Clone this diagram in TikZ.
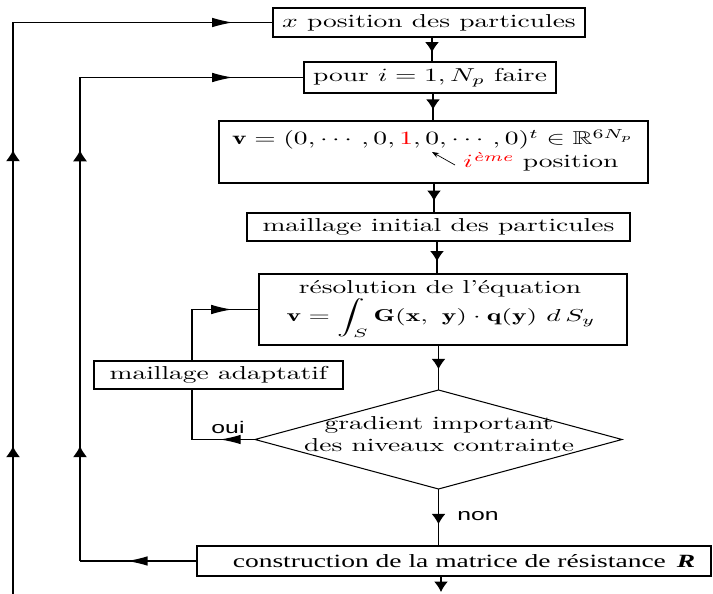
\documentclass[tikz,border=0pt]{standalone}
\usepackage{amsmath,amssymb}
\usepackage{graphicx}
\usepackage{fontspec}
\newfontfamily\timesf{Liberation Serif}
\newfontfamily\helvf{Liberation Sans}
\usetikzlibrary{arrows.meta,shapes.geometric,decorations.markings,backgrounds}
\newcommand\sx[1]{\scalebox{1.59}[1.08]{#1}}
\begin{document}
\begin{tikzpicture}[x=0.578pt,y=-0.578pt,
  box/.style={draw,line width=0.6pt,inner sep=0pt,outer sep=0pt,fill=white},
  sz/.style 2 args={minimum width=#1*0.578pt,minimum height=#2*0.578pt},
  conn/.style={line width=0.7pt},
  thickv/.style={line width=1.7pt},
  vmid/.style={postaction={decorate},decoration={markings,mark=at position #1 with {\arrow{Latex[length=6pt,width=8pt]}}}},
  hmark/.style={postaction={decorate},decoration={markings,mark=at position #1 with {\arrow{Latex[length=12pt,width=5.5pt]}}}},
  vmarks/.style 2 args={postaction={decorate},decoration={markings,
      mark=at position #1 with {\arrow{Latex[length=6.5pt,width=8.5pt]}},
      mark=at position #2 with {\arrow{Latex[length=6.5pt,width=8.5pt]}}}},
]
\useasboundingbox (0,0) rectangle (713,594);

% boxes
\node[box,sz={312}{29}] (b1) at (429,22.5) {\sx{$x$ position des particules}};
\node[box,sz={252}{31}] (b2) at (430,77.5) {\sx{pour $i=1, N_p$ faire}};
\node[box,sz={429}{62}] (b3) at (433.5,152) {};
\node[anchor=base] (v1) at (433,145) {\sx{$\mathbf{v}=(0,\cdots,0,\textcolor{red}{1},0,\cdots,0)^t\in\mathbb{R}^{6N_p}$}};
\node[anchor=base] (pos) at (541,168) {\sx{$\textcolor{red}{i^{\textit{ème}}}$ position}};
\node[box,sz={383}{28}] (b4) at (438.5,227) {\sx{maillage initial des particules}};
\node[box,sz={368}{71}] (b5) at (443,309.5) {};
\node[anchor=base,inner sep=0pt] (t5a) at (440,294) {\sx{résolution de l'équation}};
\node[anchor=base,inner sep=0pt] (t5b) at (441,322) {\scalebox{1.59}[1]{$\displaystyle \mathbf{v}=\int_S \mathbf{G}(\mathbf{x},\ \mathbf{y})\cdot\mathbf{q}(\mathbf{y})\ d\,S_y$}};
\node[box,sz={249}{28}] (b6) at (218.5,375) {\sx{maillage adaptatif}};
\node[diamond,draw,line width=0.6pt,inner sep=0pt,outer sep=0pt,fill=white,sz={367}{99}] (dia) at (438.5,439.5) {};
\node (dt) at (439,436) {\sx{\begin{tabular}{@{}c@{}}gradient important\\des niveaux contrainte\end{tabular}}};
\node[box,sz={514}{30}] (b7) at (454,561) {};
\node (t7) at (464,561) {\sx{\timesf construction de la matrice de résistance\hspace{4pt}\textbf{\textit{R}}}};

% labels
\node (oui) at (228,427) {\sx{\helvf\fontsize{9}{11}\selectfont oui}};
\node (non) at (478,516) {\sx{\helvf\fontsize{9}{11}\selectfont non}};

% pointer
\coordinate (ptail) at (455,165);
\coordinate (phead) at (432,152);
\draw[line width=0.4pt,-{Stealth[length=4pt,width=3pt]}] (ptail) -- (phead);

\coordinate (p12) at ([xshift=3*0.578pt]b1.south);
\coordinate (p23) at ([xshift=3*0.578pt]b2.south);
\coordinate (p34) at ([xshift=0.5*0.578pt]b3.south);
\coordinate (p45) at ([xshift=-1.5*0.578pt]b4.south);
\coordinate (pend) at (441,592);
\coordinate (o0) at (13,594);
\coordinate (il) at (80,300);
\coordinate (k) at (192,309.5);

\begin{pgfonlayer}{background}
% main chain
\draw[conn,vmid=0.62] (p12) -- (p12 |- b2.north);
\draw[conn,vmid=0.6] (p23) -- (p23 |- b3.north);
\draw[conn,vmid=0.6] (p34) -- (p34 |- b4.north);
\draw[conn,vmid=0.62] (p45) -- (p45 |- b5.north);
\draw[conn,vmid=0.54] (dia.north |- b5.south) -- (dia.north);
\draw[conn,vmid=0.62] (dia.south) -- (dia.south |- b7.north);
\draw[conn,-{Latex[length=6pt,width=8pt]}] (b7.south -| pend) -- (pend);

% outer loop
\draw[thickv,vmarks={0.259}{0.777}] (o0) -- (o0 |- b1.west);
\draw[conn,hmark=0.846] (o0 |- b1.west) -- (b1.west);

% inner loop
\draw[conn,hmark=0.6] (b7.west) -- (b7.west -| il);
\draw[thickv,vmarks={0.238}{0.850}] (b7.west -| il) -- (b2.west -| il);
\draw[conn,hmark=0.683] (b2.west -| il) -- (b2.west);

% oui loop
\draw[conn,hmark=0.556] (dia.west) -- (dia.west -| k);
\draw[conn] (dia.west -| k) -- (k);
\draw[conn,hmark=0.597] (k) -- (b5.west);
\end{pgfonlayer}
\end{tikzpicture}
\end{document}
